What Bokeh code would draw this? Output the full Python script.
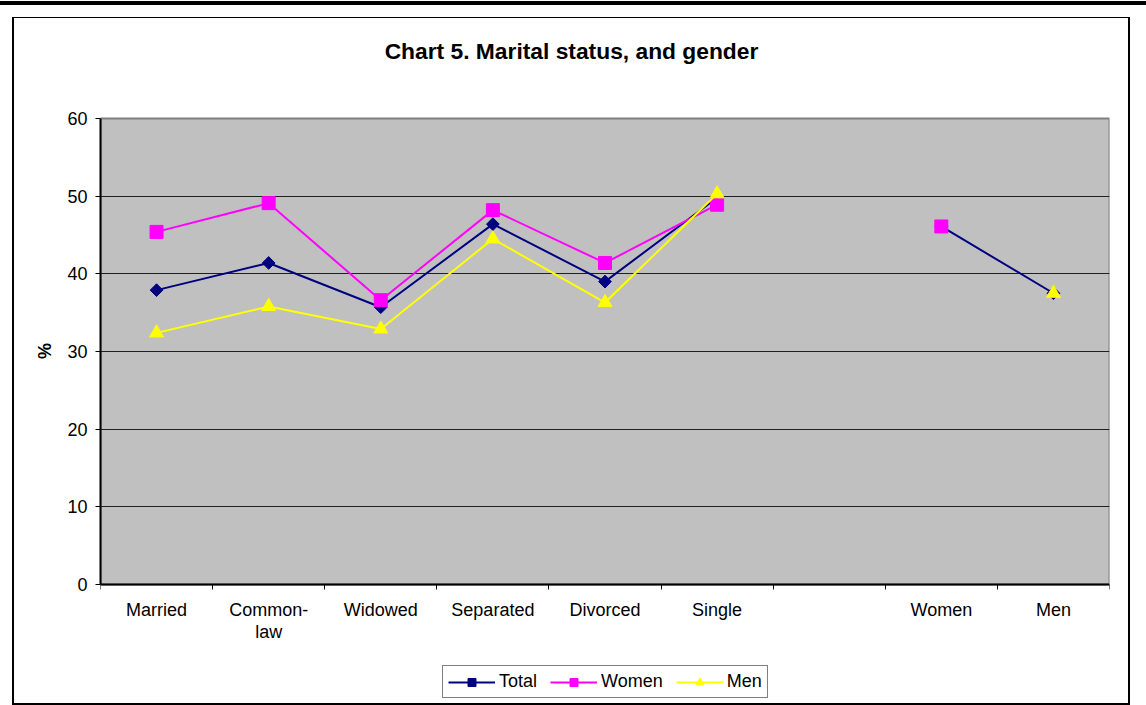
import math
from bokeh.plotting import figure
from bokeh.models import FixedTicker, Range1d, Legend, LegendItem, InlineStyleSheet, Label
from bokeh.embed import file_html
from bokeh.resources import INLINE

nan = float("nan")

categories = ["Married", "Common-law", "Widowed", "Separated", "Divorced", "Single", "", "Women", "Men"]
total = [37.9, 41.4, 35.7, 46.4, 39.0, 49.8, nan, 46.1, 37.5]
women = [45.4, 49.1, 36.6, 48.2, 41.4, 48.9, nan, 46.1, nan]
men = [32.4, 35.8, 32.9, 44.5, 36.3, 50.3, nan, nan, 37.5]
y_ticks = [0, 10, 20, 30, 40, 50, 60]
series_names = ["Total", "Women", "Men"]
title_text = "Chart 5. Marital status, and gender"
y_label = "%"

FONT = "Liberation Sans"

# layout geometry (pixels)
W, H = 1116, 687
LEFT, RIGHT = 87, 20
AREA_TOP, AREA_BOTTOM = 101, 567   # gray plotting area inside the canvas

n = len(categories)
x = [i + 0.5 for i in range(n)]
boundaries = list(range(n + 1))

y0, y1 = y_ticks[0], y_ticks[-1]
upp = (y1 - y0) / (AREA_BOTTOM - AREA_TOP)
y_range = Range1d(y0 - (H - AREA_BOTTOM) * upp, y1 + AREA_TOP * upp)

p = figure(width=W, height=H, output_backend="svg", toolbar_location=None, title=None,
           x_range=Range1d(0, n), y_range=y_range,
           min_border_left=LEFT, min_border_right=RIGHT, min_border_top=0, min_border_bottom=0)
p.margin = (17, 0, 0, 13)
p.stylesheets = [InlineStyleSheet(css=(
    ":host::before { content: ''; position: fixed; left: 0px; top: 1px; "
    "width: 1146px; height: 4px; background: black; z-index: 10; pointer-events: none; }"
    ":host::after { content: ''; position: fixed; left: 12px; top: 17px; "
    "width: 1118px; height: 688px; box-sizing: border-box; border: 2px solid black; "
    "border-top-width: 1px; z-index: 11; pointer-events: none; }"
))]

p.background_fill_color = "white"
p.border_fill_color = "white"
p.outline_line_color = None

# gray plotting area
p.quad(left=0, right=n, bottom=y0, top=y1, fill_color="#C0C0C0",
       line_color="#808080", line_width=2, level="image")

# title
p.add_layout(Label(x=471, y=654, x_units="screen", y_units="screen",
                   text=title_text, text_font=FONT, text_font_size="22.8px",
                   text_font_style="bold", text_color="black",
                   text_align="center", text_baseline="middle"))

# series
lt = p.line(x, total, line_color="#000080", line_width=2)
st = p.scatter(x, total, marker="square", angle=math.pi / 4, size=9,
               fill_color="#000080", line_color="#000080")
lw = p.line(x, women, line_color="#FF00FF", line_width=2)
sw = p.scatter(x, women, marker="square", size=13, fill_color="#FF00FF", line_color="#FF00FF")
lm = p.line(x, men, line_color="#FFFF00", line_width=2)
sm = p.scatter(x, men, marker="triangle", size=14, fill_color="#FFFF00", line_color="#FFFF00")

# x axis, fixed at y = 0
p.xaxis.fixed_location = y0
p.xaxis.ticker = FixedTicker(ticks=x, minor_ticks=boundaries)
p.xaxis.major_label_overrides = {xi: c.replace("-", "-\n") for xi, c in zip(x, categories)}
p.xaxis.major_tick_line_color = None
p.xaxis.major_tick_out = 0
p.xaxis.major_tick_in = 0
p.xaxis.minor_tick_out = 5
p.xaxis.minor_tick_in = 0
p.xaxis.minor_tick_line_color = "black"
p.xaxis.major_label_standoff = 10
p.xaxis.axis_line_color = "black"
p.xaxis.axis_line_width = 2
p.xaxis.major_label_text_font = FONT
p.xaxis.major_label_text_font_size = "18px"
p.xaxis.major_label_text_line_height = 1.1
p.xaxis.major_label_text_color = "black"
p.xgrid.visible = False

# y axis
p.yaxis.bounds = (y0, y1)
p.yaxis.ticker = FixedTicker(ticks=y_ticks)
p.yaxis.minor_tick_line_color = None
p.yaxis.major_tick_out = 5
p.yaxis.major_tick_in = 0
p.yaxis.major_tick_line_color = "black"
p.yaxis.major_label_standoff = 8
p.yaxis.axis_line_color = "black"
p.yaxis.axis_line_width = 2
p.yaxis.major_label_text_font = FONT
p.yaxis.major_label_text_font_size = "18px"
p.yaxis.major_label_text_color = "black"
p.yaxis.axis_label = "\u00a0" * 4 + y_label
p.yaxis.axis_label_text_font = FONT
p.yaxis.axis_label_text_font_size = "18px"
p.yaxis.axis_label_text_font_style = "bold"
p.yaxis.axis_label_text_color = "black"
p.yaxis.axis_label_standoff = 9
p.ygrid.ticker = FixedTicker(ticks=y_ticks[1:-1])
p.ygrid.grid_line_color = "#202020"
p.ygrid.grid_line_width = 1

legend = Legend(items=[
    LegendItem(label=series_names[0], renderers=[lt, st]),
    LegendItem(label=series_names[1], renderers=[lw, sw]),
    LegendItem(label=series_names[2], renderers=[lm, sm]),
], location=(342, 6), orientation="horizontal")
legend.label_text_font = FONT
legend.label_text_font_size = "18px"
legend.label_text_color = "black"
legend.glyph_width = 47
legend.glyph_height = 20
legend.label_standoff = 4
legend.spacing = 13
legend.padding = 5
legend.margin = 0
legend.border_line_color = "black"
legend.border_line_width = 1
legend.background_fill_color = "white"
legend.background_fill_alpha = 1
p.add_layout(legend, "center")

open("out.html", "w").write(file_html(p, INLINE))
